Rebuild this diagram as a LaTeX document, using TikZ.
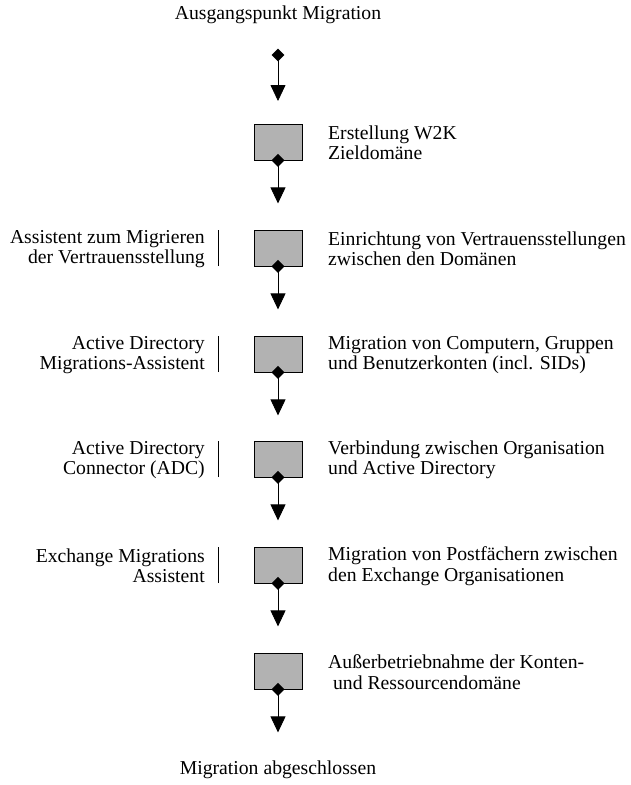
\documentclass[tikz,border=0pt]{standalone}
\usepackage{fontspec}
\setmainfont{Liberation Serif}
\usetikzlibrary{arrows.meta,shapes.geometric}
\begin{document}
\begin{tikzpicture}[x=1pt,y=-1pt,
    font=\fontsize{19.7}{20.5}\selectfont,
    stepbox/.style={rectangle, draw, thick, fill=black!30, minimum width=48pt, minimum height=36pt, inner sep=0pt},
    knob/.style={diamond, fill=black, inner sep=0pt, minimum size=13pt},
    flow/.style={-{Triangle[width=15pt,length=16pt]}, thick},
    desc/.style={anchor=west, align=left, inner sep=0pt},
    tool/.style={anchor=east, align=right, inner sep=0pt}]
    \useasboundingbox (0,0) rectangle (630,785);
    % start and end
    \node (start) at (278,15) {Ausgangspunkt Migration};
    \node (end) at (278,770) {Migration abgeschlossen};
    \node[knob] (k0) at (278,55) {};
    \coordinate (e0) at (278,101);
    \draw[flow] (k0.center) -- (e0);
    % steps
    \foreach \i/\y in {1/142,2/248,3/354,4/459,5/565,6/671} {
        \node[stepbox] (b\i) at (278,\y) {};
        \node[knob] (k\i) at (b\i.south) {};
        \coordinate (e\i) at ([yshift=-43pt]b\i.south);
        \draw[flow] (k\i.center) -- (e\i);
    }
    % descriptions
    \node[desc] (d1) at (328,143) {Erstellung W2K\\Zieldomäne};
    \node[desc] (d2) at (328,249) {Einrichtung von Vertrauensstellungen\\zwischen den Domänen};
    \node[desc] (d3) at (328,355) {Migration von Computern, Gruppen\\und Benutzerkonten (incl. SIDs)};
    \node[desc] (d4) at (328,460) {Verbindung zwischen Organisation\\und Active Directory};
    \node[desc] (d5) at (328,566) {Migration von Postfächern zwischen\\den Exchange Organisationen};
    \node[desc] (d6) at (328,672) {Außerbetriebnahme der Konten-\\\ und Ressourcendomäne};
    % tools
    \node[tool] (t2) at (205,249) {Assistent zum Migrieren\\der Vertrauensstellung};
    \node[tool] (t3) at (205,355) {Active Directory\\Migrations-Assistent};
    \node[tool] (t4) at (205,460) {Active Directory\\Connector (ADC)};
    \node[tool] (t5) at (205,566) {Exchange Migrations\\Assistent};
    \foreach \i in {2,3,4,5} {
        \draw ([xshift=13pt,yshift=-18pt]t\i.east |- b\i.center) -- ([xshift=13pt,yshift=18pt]t\i.east |- b\i.center);
    }
\end{tikzpicture}
\end{document}
